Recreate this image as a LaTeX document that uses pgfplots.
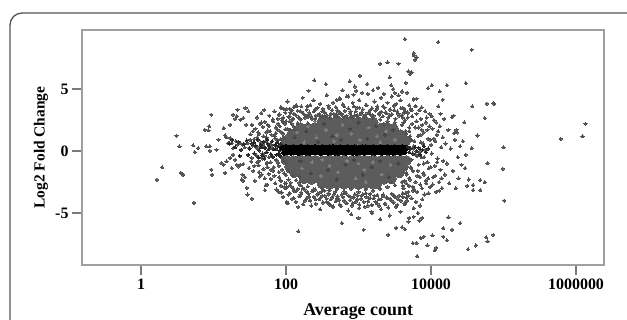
\documentclass[border=0pt]{standalone}
\usepackage{fontspec}
\setmainfont{Liberation Serif}
\usepackage{pgfplots}
\usepackage{pgfplotstable}
\pgfplotsset{compat=1.18}
\definecolor{coregray}{HTML}{5C5C5C}
\definecolor{dotgray}{HTML}{525252}
\definecolor{lightspeck}{HTML}{7E7E7E}
\definecolor{darkspeck}{HTML}{444444}
\definecolor{boxgray}{HTML}{A0A0A0}
\definecolor{tickgray}{HTML}{7A7A7A}
\definecolor{framegray}{HTML}{555555}

% lx = log10(average count), y = log2 fold change
\pgfplotstableread[row sep=\\]{lx y\\
2.50 2.37\\ 2.60 2.32\\ 2.70 2.39\\ 2.80 2.33\\ 2.90 2.38\\ 3.00 2.31\\ 3.10 2.36\\ 3.20 2.33\\
2.20 1.87\\ 2.30 1.82\\ 2.40 1.89\\ 2.50 1.84\\ 2.60 1.88\\ 2.70 1.81\\ 2.80 1.89\\ 2.90 1.83\\ 3.00 1.86\\ 3.10 1.82\\ 3.20 1.89\\ 3.30 1.84\\ 3.40 1.87\\ 3.48 1.82\\
2.08 1.37\\ 2.18 1.32\\ 2.28 1.39\\ 2.38 1.33\\ 2.48 1.38\\ 2.58 1.31\\ 2.68 1.37\\ 2.78 1.34\\ 2.88 1.39\\ 2.98 1.32\\ 3.08 1.36\\ 3.18 1.31\\ 3.28 1.38\\ 3.38 1.33\\ 3.48 1.37\\ 3.58 1.32\\
2.00 0.86\\ 2.10 0.82\\ 2.20 0.88\\ 2.30 0.84\\ 2.40 0.89\\ 2.50 0.81\\ 2.60 0.86\\ 2.70 0.83\\ 2.80 0.88\\ 2.90 0.82\\ 3.00 0.87\\ 3.10 0.84\\ 3.20 0.89\\ 3.30 0.81\\ 3.40 0.86\\ 3.50 0.83\\ 3.58 0.88\\ 3.65 0.82\\
2.00 -0.73\\ 2.10 -0.78\\ 2.20 -0.72\\ 2.30 -0.77\\ 2.40 -0.74\\ 2.50 -0.79\\ 2.60 -0.71\\ 2.70 -0.76\\ 2.80 -0.73\\ 2.90 -0.78\\ 3.00 -0.72\\ 3.10 -0.77\\ 3.20 -0.74\\ 3.30 -0.79\\ 3.40 -0.72\\ 3.50 -0.76\\ 3.58 -0.73\\ 3.66 -0.77\\
2.05 -1.23\\ 2.15 -1.28\\ 2.25 -1.22\\ 2.35 -1.27\\ 2.45 -1.24\\ 2.55 -1.29\\ 2.65 -1.21\\ 2.75 -1.26\\ 2.85 -1.23\\ 2.95 -1.28\\ 3.05 -1.22\\ 3.15 -1.27\\ 3.25 -1.24\\ 3.35 -1.29\\ 3.45 -1.22\\ 3.55 -1.26\\ 3.62 -1.23\\
2.12 -1.73\\ 2.22 -1.78\\ 2.32 -1.72\\ 2.42 -1.77\\ 2.52 -1.74\\ 2.62 -1.79\\ 2.72 -1.71\\ 2.82 -1.76\\ 2.92 -1.73\\ 3.02 -1.78\\ 3.12 -1.72\\ 3.22 -1.77\\ 3.32 -1.74\\ 3.42 -1.79\\ 3.50 -1.72\\ 3.56 -1.76\\
2.25 -2.23\\ 2.35 -2.28\\ 2.45 -2.22\\ 2.55 -2.27\\ 2.65 -2.24\\ 2.75 -2.29\\ 2.85 -2.21\\ 2.95 -2.26\\ 3.05 -2.23\\ 3.15 -2.28\\ 3.25 -2.22\\ 3.35 -2.27\\ 3.45 -2.24\\
2.50 -2.63\\ 2.60 -2.68\\ 2.70 -2.62\\ 2.80 -2.67\\ 2.90 -2.64\\ 3.00 -2.69\\ 3.10 -2.62\\ 3.20 -2.66\\ 3.25 -2.63\\
}\coretab

\pgfplotstableread[row sep=\\]{lx y\\
2.15 1.50\\ 2.22 -1.40\\ 2.30 2.00\\ 2.36 -0.90\\ 2.42 1.10\\ 2.48 -2.00\\ 2.55 1.70\\ 2.60 -1.20\\ 2.66 0.80\\ 2.72 -1.70\\ 2.78 2.10\\ 2.84 -0.80\\ 2.90 1.40\\ 2.96 -2.20\\ 3.02 0.90\\ 3.08 -1.50\\ 3.14 1.90\\ 3.20 -0.90\\ 3.26 1.20\\ 3.32 -1.90\\ 3.38 1.60\\ 3.44 -1.10\\ 3.50 0.90\\ 2.25 0.70\\ 2.50 -0.70\\ 2.70 1.30\\ 3.00 -1.00\\ 3.30 0.70\\ 2.40 2.40\\ 3.10 -2.50\\
}\lighttab

\pgfplotstableread[row sep=\\]{lx y\\
2.12 1.10\\ 2.20 -0.80\\ 2.28 1.60\\ 2.34 -1.80\\ 2.44 0.75\\ 2.52 2.20\\ 2.58 -1.50\\ 2.64 1.20\\ 2.70 -2.30\\ 2.76 0.90\\ 2.82 -1.10\\ 2.88 1.80\\ 2.94 -0.70\\ 3.00 2.30\\ 3.06 -1.90\\ 3.12 1.00\\ 3.18 -1.30\\ 3.24 2.00\\ 3.30 -0.80\\ 3.36 1.30\\ 3.42 -2.10\\ 3.48 1.70\\ 3.55 -1.00\\
}\darktab

\pgfplotstableread[row sep=\\]{lx y\\
0.22 -2.31\\ 0.29 -1.32\\ 0.49 1.23\\ 0.53 0.38\\ 0.55 -1.77\\ 0.58 -1.91\\ 0.72 0.46\\ 0.74 -0.08\\ 0.79 0.24\\ 0.73 -4.17\\ 0.97 2.93\\ 0.88 1.72\\ 0.94 1.99\\ 0.93 1.67\\ 0.90 0.38\\ 0.95 0.38\\ 0.95 0.02\\ 0.97 -1.50\\ 0.98 -1.91\\ 1.07 0.91\\ 1.04 0.10\\ 1.14 1.85\\ 1.16 1.27\\ 1.18 1.10\\ 1.20 0.64\\ 1.23 1.05\\ 1.25 0.64\\ 1.27 0.24\\ 1.31 0.78\\ 1.33 0.51\\ 1.37 0.64\\ 1.40 0.51\\ 1.43 0.30\\ 1.47 0.64\\ 1.49 0.24\\ 1.11 -0.97\\ 1.14 -1.10\\ 1.18 -0.83\\ 1.23 -0.56\\ 1.16 -1.77\\ 1.27 2.93\\ 1.32 2.80\\ 1.33 3.33\\ 1.44 3.47\\ 1.34 -1.24\\ 1.37 -1.10\\ 1.41 -1.05\\ 1.39 -2.30\\ 1.46 -2.98\\ 1.41 -2.39\\ 1.53 -3.84\\ 1.71 -3.17\\ 1.74 -2.71\\ 1.70 3.31\\ 1.23 2.12\\ 1.30 2.60\\ 1.37 2.53\\ 1.41 2.66\\ 1.48 3.20\\ 1.45 2.12\\ 1.27 -0.30\\ 1.32 -1.10\\ 1.43 -2.10\\ 1.47 -3.51\\ 1.40 -1.91\\ 1.25 -1.37\\ 1.30 -0.70\\ 1.49 -1.37\\
1.51 1.35\\ 1.52 -0.85\\ 1.53 2.10\\ 1.54 0.45\\ 1.55 -1.60\\ 1.56 0.95\\ 1.57 -2.40\\ 1.58 1.80\\ 1.59 -0.35\\ 1.60 2.70\\ 1.61 0.20\\ 1.62 -1.15\\ 1.63 1.40\\ 1.64 -2.05\\ 1.65 0.70\\ 1.66 3.05\\ 1.67 -0.60\\ 1.68 1.95\\ 1.69 -1.45\\ 1.70 0.35\\ 1.71 2.35\\ 1.72 -2.75\\ 1.73 1.10\\ 1.74 -0.95\\ 1.75 1.65\\ 1.76 -1.85\\ 1.77 2.85\\ 1.78 0.55\\ 1.79 -2.25\\ 1.80 1.30\\ 1.81 -0.45\\ 1.82 2.55\\ 1.83 -1.30\\ 1.84 3.20\\ 1.85 -2.60\\ 1.86 1.90\\ 1.87 -3.10\\ 1.88 0.85\\ 1.89 2.20\\ 1.90 -1.70\\ 1.91 2.95\\ 1.92 -2.35\\ 1.93 1.55\\ 1.94 -3.35\\ 1.95 2.45\\ 1.96 -0.75\\ 1.97 3.40\\ 1.98 -2.90\\ 1.99 1.75\\ 2.00 -1.95\\
1.505 0.90\\ 1.525 -0.55\\ 1.545 1.60\\ 1.565 -1.20\\ 1.585 0.30\\ 1.605 1.10\\ 1.625 -0.80\\ 1.645 2.20\\ 1.665 -1.90\\ 1.685 0.60\\ 1.705 -0.40\\ 1.725 1.50\\ 1.745 -1.30\\ 1.765 2.00\\ 1.785 -0.90\\ 1.805 0.45\\ 1.825 -1.60\\ 1.845 1.20\\ 1.865 -0.70\\ 1.885 2.60\\ 1.905 -2.10\\ 1.925 0.95\\ 1.945 -1.50\\ 1.965 2.30\\ 1.985 -2.60\\
1.60 -0.90\\ 1.615 1.50\\ 1.63 -1.70\\ 1.645 0.40\\ 1.66 2.30\\ 1.675 -0.20\\ 1.69 1.20\\ 1.705 -2.20\\ 1.72 0.80\\ 1.735 -1.00\\ 1.75 2.10\\ 1.765 -0.50\\ 1.78 1.60\\ 1.795 -1.50\\ 1.81 0.20\\ 1.825 2.40\\ 1.84 -2.00\\ 1.855 1.00\\ 1.87 -0.80\\ 1.885 1.70\\ 1.90 -1.20\\ 1.915 2.00\\ 1.93 -2.40\\ 1.945 0.50\\ 1.96 1.40\\ 1.975 -1.80\\ 1.99 2.20\\ 2.005 -0.90\\ 2.02 1.80\\ 2.035 -2.30\\ 2.05 2.40\\ 2.065 -2.55\\ 2.08 2.20\\ 2.095 -2.00\\ 1.91 0.45\\ 1.94 -0.55\\ 1.97 1.05\\ 1.89 -0.95\\ 1.93 0.95\\ 1.86 1.45\\ 2.11 1.95\\ 2.14 -2.35\\ 2.16 2.25\\ 2.19 -2.05\\ 2.03 -1.60\\ 2.06 1.70\\
1.90 2.90\\ 1.93 3.50\\ 1.96 2.70\\ 1.99 3.10\\ 2.02 4.00\\ 2.05 2.80\\ 2.08 3.30\\ 2.11 3.00\\ 2.14 3.70\\ 2.17 2.70\\ 2.20 3.20\\ 2.23 4.30\\ 2.26 2.90\\ 2.29 3.60\\ 2.32 3.10\\ 2.35 2.80\\ 2.38 4.10\\ 2.41 3.40\\ 2.44 2.90\\ 2.47 3.80\\ 2.50 3.20\\ 2.53 2.70\\ 2.56 4.50\\ 2.59 3.50\\ 2.62 3.00\\ 2.65 3.90\\ 2.68 2.80\\ 2.71 3.30\\ 2.74 4.20\\ 2.77 3.00\\ 2.80 3.60\\ 2.83 2.80\\ 2.86 4.40\\ 2.89 3.20\\ 2.92 3.90\\ 2.95 2.90\\ 2.98 3.50\\ 3.01 4.10\\ 3.04 3.10\\ 3.07 2.80\\ 3.10 3.70\\ 3.13 4.60\\ 3.16 3.30\\ 3.19 2.90\\ 3.22 4.00\\ 3.25 3.40\\ 3.28 3.00\\ 3.31 4.30\\ 3.34 3.60\\ 3.37 3.10\\ 3.40 3.90\\ 3.43 2.90\\ 3.46 4.40\\ 3.49 3.30\\ 3.52 3.80\\ 3.55 3.00\\ 3.58 4.10\\ 3.61 3.50\\ 3.64 3.20\\ 3.67 4.70\\ 3.70 3.70\\ 3.73 3.30\\ 3.76 4.20\\ 3.79 3.60\\
1.95 2.60\\ 2.00 2.40\\ 2.10 2.60\\ 2.20 2.55\\ 2.30 2.75\\ 2.40 2.60\\ 2.50 2.85\\ 2.60 2.70\\ 2.70 2.95\\ 2.80 2.75\\ 2.90 2.80\\ 3.00 2.70\\ 3.10 2.95\\ 3.20 2.65\\ 3.30 2.55\\ 3.40 2.40\\ 3.50 2.30\\ 3.60 2.10\\ 3.70 1.90\\ 3.66 1.40\\ 3.72 0.95\\ 3.35 2.20\\ 2.30 2.25\\ 2.12 1.75\\
2.01 3.40\\ 2.035 2.75\\ 2.06 3.10\\ 2.085 2.55\\ 2.11 3.55\\ 2.135 2.90\\ 2.16 3.25\\ 2.185 2.65\\ 2.21 3.60\\ 2.235 3.05\\ 2.26 2.70\\ 2.285 3.35\\ 2.31 2.95\\ 2.335 3.70\\ 2.36 2.60\\ 2.385 3.20\\ 2.41 2.85\\ 2.435 3.50\\ 2.46 3.00\\ 2.485 2.75\\ 2.51 3.40\\ 2.535 3.10\\ 2.56 2.90\\ 2.585 3.65\\ 2.61 2.70\\ 2.635 3.30\\ 2.66 3.00\\ 2.685 3.55\\ 2.71 2.80\\ 2.735 3.15\\ 2.76 2.95\\ 2.785 3.75\\ 2.81 3.25\\ 2.835 2.85\\ 2.86 3.45\\ 2.885 3.05\\ 2.91 2.75\\ 2.935 3.60\\ 2.96 3.20\\ 2.985 2.90\\ 3.01 3.50\\ 3.035 3.00\\ 3.06 3.35\\ 3.085 2.80\\ 3.11 3.70\\ 3.135 3.10\\ 3.16 2.95\\ 3.185 3.45\\ 3.21 2.85\\ 3.235 3.25\\ 3.26 3.60\\ 3.285 2.95\\ 3.31 3.15\\ 3.335 2.80\\ 3.36 3.50\\ 3.385 3.05\\ 3.41 2.70\\ 3.435 3.35\\ 3.46 2.95\\ 3.485 3.65\\ 3.51 2.60\\ 3.535 3.20\\ 3.56 2.85\\ 3.585 3.45\\ 3.61 2.70\\ 3.635 3.10\\
1.90 -3.30\\ 1.93 -2.80\\ 1.96 -3.70\\ 1.99 -3.00\\ 2.02 -4.20\\ 2.05 -3.40\\ 2.08 -2.90\\ 2.11 -3.80\\ 2.14 -3.20\\ 2.17 -4.50\\ 2.20 -3.50\\ 2.23 -3.00\\ 2.26 -4.00\\ 2.29 -3.30\\ 2.32 -3.70\\ 2.35 -4.40\\ 2.38 -3.10\\ 2.41 -3.90\\ 2.44 -3.40\\ 2.47 -4.70\\ 2.50 -3.60\\ 2.53 -3.20\\ 2.56 -4.10\\ 2.59 -3.50\\ 2.62 -3.90\\ 2.65 -4.50\\ 2.68 -3.30\\ 2.71 -3.80\\ 2.74 -4.30\\ 2.77 -3.50\\ 2.80 -4.00\\ 2.83 -3.40\\ 2.86 -4.80\\ 2.89 -3.70\\ 2.92 -4.20\\ 2.95 -3.50\\ 2.98 -3.90\\ 3.01 -4.60\\ 3.04 -3.60\\ 3.07 -4.10\\ 3.10 -3.40\\ 3.13 -4.40\\ 3.16 -3.80\\ 3.19 -5.00\\ 3.22 -3.60\\ 3.25 -4.20\\ 3.28 -3.90\\ 3.31 -4.70\\ 3.34 -3.50\\ 3.37 -4.30\\ 3.40 -3.80\\ 3.43 -5.20\\ 3.46 -4.00\\ 3.49 -3.60\\ 3.52 -4.50\\ 3.55 -3.90\\ 3.58 -4.90\\ 3.61 -3.70\\ 3.64 -4.30\\ 3.67 -4.00\\ 3.70 -5.40\\ 3.73 -3.80\\ 3.76 -4.60\\ 3.79 -4.10\\ 3.82 -5.00\\ 3.85 -4.40\\ 3.88 -3.90\\
2.00 -2.60\\ 2.10 -3.00\\ 2.20 -2.75\\ 2.30 -2.85\\ 2.40 -3.10\\ 2.50 -3.00\\ 2.60 -3.15\\ 2.70 -3.05\\ 2.80 -3.25\\ 2.90 -3.05\\ 3.00 -3.30\\ 3.10 -3.10\\ 3.20 -3.20\\ 3.30 -3.05\\ 3.40 -2.90\\ 3.50 -2.75\\ 3.60 -2.50\\ 3.70 -2.20\\ 3.66 -1.75\\ 3.72 -1.30\\ 2.18 -2.55\\ 3.45 -2.50\\
2.01 -2.90\\ 2.035 -3.50\\ 2.06 -2.75\\ 2.085 -3.85\\ 2.11 -3.20\\ 2.135 -4.10\\ 2.16 -3.05\\ 2.185 -3.65\\ 2.21 -3.35\\ 2.235 -4.30\\ 2.26 -3.10\\ 2.285 -3.80\\ 2.31 -3.45\\ 2.335 -4.00\\ 2.36 -3.25\\ 2.385 -3.70\\ 2.41 -4.25\\ 2.435 -3.50\\ 2.46 -3.90\\ 2.485 -3.30\\ 2.51 -4.15\\ 2.535 -3.60\\ 2.56 -3.85\\ 2.585 -3.40\\ 2.61 -4.35\\ 2.635 -3.75\\ 2.66 -3.50\\ 2.685 -4.05\\ 2.71 -3.65\\ 2.735 -3.95\\ 2.76 -4.45\\ 2.785 -3.70\\ 2.81 -3.40\\ 2.835 -4.20\\ 2.86 -3.60\\ 2.885 -3.95\\ 2.91 -4.40\\ 2.935 -3.75\\ 2.96 -4.10\\ 2.985 -3.55\\ 3.01 -4.30\\ 3.035 -3.85\\ 3.06 -3.50\\ 3.085 -4.50\\ 3.11 -3.70\\ 3.135 -4.05\\ 3.16 -3.45\\ 3.185 -4.35\\ 3.21 -3.80\\ 3.235 -4.10\\ 3.26 -3.55\\ 3.285 -4.40\\ 3.31 -3.90\\ 3.335 -3.60\\ 3.36 -4.25\\ 3.385 -3.75\\ 3.41 -4.55\\ 3.435 -3.85\\ 3.46 -3.45\\ 3.485 -4.15\\ 3.51 -3.70\\ 3.535 -4.35\\ 3.56 -3.60\\ 3.585 -4.00\\ 3.61 -3.40\\ 3.635 -4.20\\ 3.66 -3.75\\ 3.685 -3.30\\
3.70 1.60\\ 3.71 -2.30\\ 3.72 0.90\\ 3.73 -0.70\\ 3.74 2.80\\ 3.75 -1.60\\ 3.76 0.40\\ 3.77 -3.10\\ 3.78 1.90\\ 3.79 -0.30\\ 3.80 2.40\\ 3.81 -2.00\\ 3.82 1.20\\ 3.83 -1.10\\ 3.84 3.30\\ 3.85 -2.70\\ 3.86 0.70\\ 3.87 -0.50\\ 3.88 2.10\\ 3.89 -1.80\\ 3.90 1.50\\ 3.91 -3.50\\ 3.92 0.10\\ 3.93 -2.40\\ 3.94 2.70\\ 3.95 -0.90\\ 3.96 1.00\\ 3.97 -1.40\\ 3.98 3.00\\ 3.99 -2.90\\ 4.00 0.50\\ 4.01 -0.20\\ 4.02 1.80\\ 4.03 -2.10\\ 4.04 2.50\\ 4.05 -1.20\\ 4.06 0.80\\ 4.07 -3.30\\ 4.08 1.30\\ 4.09 -0.60\\ 4.10 3.60\\ 4.11 -2.50\\ 4.12 2.00\\ 4.13 -1.50\\ 4.14 0.30\\ 4.15 -3.00\\ 4.16 1.10\\ 4.17 -0.80\\ 4.18 2.60\\ 4.19 -1.90\\ 4.20 0.60\\
3.60 2.90\\ 3.62 -3.00\\ 3.64 2.50\\ 3.66 -2.60\\ 3.68 3.10\\ 3.65 -3.40\\ 3.63 3.40\\ 3.61 -2.80\\ 3.69 -3.60\\ 3.72 3.40\\ 3.75 -2.90\\ 3.78 3.60\\ 3.81 -3.30\\ 3.84 -0.10\\ 3.87 1.70\\ 3.90 -1.00\\ 3.93 2.30\\ 3.96 -2.20\\ 3.99 0.90\\ 3.755 0.20\\ 3.805 -0.40\\ 3.855 1.30\\ 3.905 -0.50\\
3.62 2.30\\ 3.635 -2.40\\ 3.65 1.60\\ 3.665 -1.90\\ 3.68 2.70\\ 3.695 -2.80\\ 3.71 1.20\\ 3.725 -1.40\\ 3.74 2.20\\ 3.755 -3.20\\ 3.77 0.80\\ 3.785 -2.50\\ 3.80 3.00\\ 3.815 -1.60\\ 3.83 1.90\\ 3.845 -2.10\\ 3.86 2.60\\ 3.875 -3.00\\ 3.89 0.60\\ 3.905 -1.90\\ 3.92 3.20\\ 3.935 -2.60\\ 3.95 1.70\\ 3.965 -3.40\\ 3.98 2.00\\ 3.995 -1.30\\ 4.01 2.80\\ 4.025 -2.70\\ 4.04 1.00\\ 4.055 -2.00\\ 4.07 2.30\\ 4.085 -0.90\\ 4.10 1.60\\ 4.115 -3.20\\ 4.13 3.00\\ 4.145 -2.20\\
4.22 -1.00\\ 4.24 1.70\\ 4.25 -2.60\\ 4.27 0.20\\ 4.30 -1.60\\ 4.33 0.90\\ 4.34 -3.00\\ 4.36 1.50\\ 4.37 -0.50\\ 4.38 -2.20\\ 4.42 -1.10\\ 4.44 0.80\\ 4.50 -2.80\\ 4.52 -2.30\\ 4.32 1.45\\ 4.35 1.70\\
1.93 3.55\\ 2.05 3.41\\ 2.15 3.60\\ 2.31 4.86\\ 2.39 5.70\\ 2.55 5.40\\ 2.70 4.14\\ 2.74 4.27\\ 2.84 4.41\\ 2.88 5.62\\ 2.97 4.86\\ 2.93 4.54\\ 3.02 6.07\\ 3.30 7.04\\ 3.40 7.15\\ 3.55 7.04\\ 3.43 5.94\\ 3.48 5.00\\ 3.50 4.68\\ 3.64 9.03\\ 4.10 8.79\\ 3.76 7.90\\ 3.80 7.56\\ 3.78 7.36\\ 3.76 7.74\\ 3.69 6.43\\ 3.71 6.21\\ 3.73 6.35\\ 3.96 5.08\\ 4.01 5.30\\ 4.12 4.81\\ 4.22 5.30\\ 3.76 4.14\\ 3.80 4.22\\ 3.87 3.52\\ 4.16 4.14\\ 4.48 5.48\\ 4.56 8.17\\ 4.57 3.60\\ 4.77 3.82\\ 4.86 3.87\\ 4.87 3.82\\ 4.74 2.66\\ 4.46 2.31\\ 4.31 2.85\\ 4.29 2.74\\ 4.64 1.26\\ 2.78 4.90\\ 2.95 5.20\\ 3.05 4.70\\ 3.12 5.40\\ 3.20 4.90\\ 3.27 5.10\\ 3.35 4.60\\ 3.45 5.30\\ 3.60 4.80\\ 3.65 5.50\\ 3.55 4.50\\
2.17 -6.48\\ 2.77 -5.81\\ 2.01 -4.11\\ 2.33 -3.98\\ 2.47 -3.79\\ 2.58 -4.19\\ 2.65 -4.46\\ 3.07 -6.35\\ 3.41 -6.75\\ 3.52 -6.20\\ 3.60 -6.15\\ 3.64 -6.30\\ 3.69 -5.70\\ 3.75 -7.42\\ 3.80 -7.42\\ 3.81 -8.49\\ 3.86 -7.00\\ 3.90 -6.90\\ 3.95 -7.60\\ 4.02 -6.80\\ 4.05 -8.00\\ 4.07 -7.80\\ 3.84 -5.60\\ 3.88 -5.40\\ 3.76 -5.30\\ 2.90 -5.10\\ 3.18 -4.90\\ 3.00 -5.40\\ 3.30 -5.50\\ 4.40 -5.81\\ 4.24 -5.35\\ 4.29 -6.35\\ 4.17 -6.21\\ 4.76 -6.96\\ 4.78 -7.28\\ 4.86 -6.77\\ 4.62 -7.61\\ 4.51 -7.93\\ 4.22 -7.20\\ 4.17 -6.90\\ 5.01 -4.00\\ 4.68 -2.34\\ 4.68 -3.15\\ 4.58 -3.15\\ 4.58 -2.74\\ 4.74 -2.52\\ 4.78 -0.97\\ 4.99 -1.43\\ 5.00 0.30\\ 4.48 -0.30\\ 4.47 -1.37\\ 4.56 0.24\\ 4.40 0.38\\ 5.79 0.99\\ 6.09 1.19\\ 6.13 2.20\\
}\dottab

\pgfplotstableread[row sep=\\]{lx y\\
1.95 0.25\\ 2.00 0.30\\ 2.05 0.26\\ 2.10 0.29\\ 2.15 0.23\\ 2.20 0.31\\ 2.25 0.25\\ 2.30 0.28\\ 2.35 0.24\\ 2.40 0.30\\ 2.45 0.26\\ 2.50 0.29\\ 2.55 0.23\\ 2.60 0.27\\ 2.65 0.31\\ 2.70 0.25\\ 2.75 0.28\\ 2.80 0.24\\ 2.85 0.30\\ 2.90 0.26\\ 2.95 0.29\\ 3.00 0.23\\ 3.05 0.27\\ 3.10 0.30\\ 3.15 0.25\\ 3.20 0.28\\ 3.25 0.24\\ 3.30 0.29\\ 3.35 0.26\\ 3.40 0.30\\ 3.45 0.23\\ 3.50 0.27\\ 3.55 0.25\\ 3.60 0.29\\ 3.65 0.24\\
1.975 -0.12\\ 2.025 -0.07\\ 2.075 -0.11\\ 2.125 -0.09\\ 2.175 -0.13\\ 2.225 -0.08\\ 2.275 -0.10\\ 2.325 -0.12\\ 2.375 -0.07\\ 2.425 -0.09\\ 2.475 -0.13\\ 2.525 -0.08\\ 2.575 -0.11\\ 2.625 -0.08\\ 2.675 -0.10\\ 2.725 -0.12\\ 2.775 -0.08\\ 2.825 -0.11\\ 2.875 -0.07\\ 2.925 -0.10\\ 2.975 -0.13\\ 3.025 -0.08\\ 3.075 -0.11\\ 3.125 -0.08\\ 3.175 -0.10\\ 3.225 -0.12\\ 3.275 -0.08\\ 3.325 -0.11\\ 3.375 -0.07\\ 3.425 -0.10\\ 3.475 -0.12\\ 3.525 -0.08\\ 3.575 -0.11\\ 3.625 -0.08\\
}\bandtab

\pgfplotstableread[row sep=\\]{lx y\\
1.22 0.60\\ 1.26 0.90\\ 1.30 0.30\\ 1.34 0.75\\ 1.38 0.10\\ 1.42 0.55\\ 1.46 0.85\\ 1.50 0.20\\ 1.53 0.60\\ 1.56 -0.20\\ 1.58 0.45\\ 1.61 0.90\\ 1.63 0.05\\ 1.65 0.50\\ 1.67 -0.35\\ 1.69 0.75\\ 1.71 0.25\\ 1.73 -0.10\\ 1.75 0.60\\ 1.77 0.35\\ 1.79 -0.25\\ 1.81 0.80\\ 1.83 0.15\\ 1.85 0.50\\ 1.87 -0.30\\ 1.89 0.40\\ 1.56 0.70\\ 1.66 0.30\\ 1.74 0.95\\ 1.82 -0.45\\ 1.86 0.20\\ 1.76 0.15\\ 1.70 -0.60\\ 1.62 -0.50\\ 1.48 -0.30\\ 1.36 -0.40\\ 1.91 0.05\\ 1.93 0.55\\ 1.90 -0.20\\ 1.88 0.70\\ 1.92 -0.40\\
3.68 0.35\\ 3.70 -0.10\\ 3.72 0.20\\ 3.75 -0.20\\ 3.78 0.30\\ 3.80 0.00\\ 3.83 0.25\\ 3.85 -0.30\\ 3.88 0.10\\ 3.90 0.40\\ 3.93 -0.10\\ 3.96 0.20\\
}\blacktab

\begin{document}
\begin{tikzpicture}
\begin{axis}[
  at={(82bp,55bp)}, anchor=south west,
  scale only axis, width=522bp, height=235bp,
  xmode=log, xmin=0.1535, xmax=2.43e6, ymin=-9.19, ymax=9.76,
  xtick={1,100,10000,1000000}, xticklabels={1,100,10000,1000000},
  ytick={-5,0,5}, yticklabels={-5,0,5},
  xminorticks=false, yminorticks=false,
  tick pos=left, tick align=outside,
  major tick length=10bp,
  every tick/.style={tickgray, line width=1.2bp},
  axis line style={boxgray, line width=1.5bp},
  tick label style={font=\fontsize{16}{16}\selectfont\bfseries, text=black},
  xlabel={Average count},
  ylabel={Log2 Fold Change},
  xlabel style={font=\fontsize{18}{18}\selectfont\bfseries, at={(axis description cs:0.529,-0.217)}, anchor=base},
  ylabel style={font=\fontsize{15.5}{15.5}\selectfont\bfseries, at={(axis description cs:-0.0785,0.5)}, anchor=center, rotate=0},
]
\addplot[only marks, mark=*, mark size=5bp, mark options={fill=coregray, draw=coregray, line width=0pt}] table[x expr=10^\thisrow{lx}, y=y] {\coretab};
\addplot[only marks, mark=*, mark size=1.4bp, mark options={fill=lightspeck, draw=lightspeck, line width=0pt}] table[x expr=10^\thisrow{lx}, y=y] {\lighttab};
\addplot[only marks, mark=*, mark size=1.6bp, mark options={fill=darkspeck, draw=darkspeck, line width=0pt}] table[x expr=10^\thisrow{lx}, y=y] {\darktab};
\addplot[only marks, mark=*, mark size=1.6bp, mark options={fill=dotgray, draw=dotgray, line width=0pt}] table[x expr=10^\thisrow{lx}, y=y] {\dottab};
\addplot[only marks, mark=*, mark size=2.8bp, mark options={fill=black, draw=black, line width=0pt}] table[x expr=10^\thisrow{lx}, y=y] {\bandtab};
\addplot[only marks, mark=*, mark size=1.6bp, mark options={fill=black!85, draw=black!85, line width=0pt}] table[x expr=10^\thisrow{lx}, y=y] {\blacktab};
\end{axis}
\draw[framegray, line width=1.3bp] (10bp,-10bp) -- (10bp,295bp) arc[start angle=180, end angle=90, radius=12bp] -- (650bp,307bp);
\pgfresetboundingbox
\useasboundingbox (0,0) rectangle (627bp,320bp);
\end{tikzpicture}
\end{document}
